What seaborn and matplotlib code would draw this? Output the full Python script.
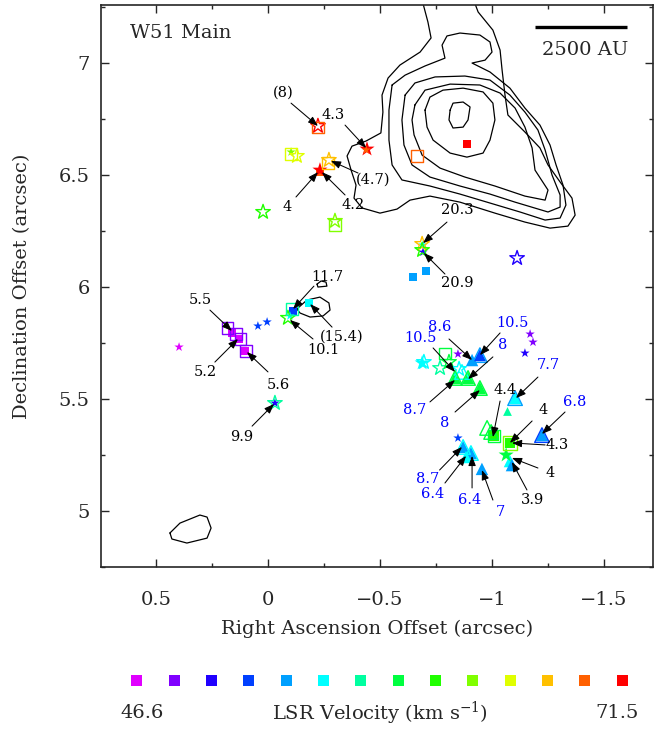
import numpy as np
import pandas as pd
import matplotlib
matplotlib.use("Agg")
import matplotlib.pyplot as plt
from matplotlib.ticker import MultipleLocator, FuncFormatter
import seaborn as sns

# velocity bins (46.6 -> 71.5 km/s), one colour per bin
vel_colors = ["#e000ff", "#8000ff", "#2000ff", "#0040ff", "#00a0ff", "#00ffff", "#00ffa0",
              "#00ff40", "#20ff00", "#80ff00", "#e0ff00", "#ffc000", "#ff6000", "#ff0000"]
vel_min_label = "46.6"
vel_max_label = "71.5"

# maser spots: offsets (arcsec), kind, velocity bin
pt_x = [-0.888, -0.665, -0.223, -0.223, -0.442, -0.438, -0.103, -0.103, -0.129, -0.272,
        -0.268, -0.232, -0.232, 0.022, -0.299, -0.299, -0.688, -0.692, -0.688, -0.692,
        -1.112, -0.647, -0.705, 0.397, 0.179, 0.143, 0.121, 0.098, 0.161, 0.129,
        0.103, 0.045, 0.004, -0.107, -0.112, -0.089, -0.098, -0.183, -0.031, -0.031,
        -0.688, -0.696, -0.790, -0.768, -0.808, -0.848, -0.853, -0.866, -0.835, -0.835,
        -0.893, -0.893, -0.946, -0.946, -0.911, -0.946, -0.946, -1.170, -1.183, -1.147,
        -1.103, -1.103, -1.067, -1.223, -1.223, -0.978, -0.996, -1.009, -1.009, -1.080,
        -1.080, -1.063, -1.080, -1.089, -0.848, -0.871, -0.871, -0.906, -0.906, -0.884,
        -0.955]
pt_y = [6.638, 6.585, 6.714, 6.719, 6.616, 6.612, 6.603, 6.594, 6.585, 6.567,
        6.554, 6.522, 6.513, 6.335, 6.277, 6.295, 6.192, 6.188, 6.165, 6.156,
        6.129, 6.045, 6.071, 5.732, 5.817, 5.790, 5.768, 5.714, 5.795, 5.768,
        5.714, 5.826, 5.844, 5.902, 5.893, 5.862, 5.871, 5.929, 5.482, 5.482,
        5.661, 5.665, 5.705, 5.638, 5.665, 5.701, 5.634, 5.621, 5.594, 5.594,
        5.594, 5.594, 5.549, 5.549, 5.674, 5.696, 5.696, 5.790, 5.754, 5.705,
        5.504, 5.504, 5.446, 5.339, 5.339, 5.371, 5.353, 5.335, 5.335, 5.304,
        5.304, 5.250, 5.223, 5.205, 5.326, 5.286, 5.286, 5.259, 5.259, 5.241,
        5.188]
pt_kind = ["sq_f", "sq_o", "sq_o", "star_o", "star_F", "star_f", "star_f", "sq_o", "star_o", "star_o",
           "sq_o", "star_F", "sq_f", "star_o", "sq_o", "star_o", "star_o", "star_f", "star_o", "star_f",
           "star_o", "sq_f", "sq_f", "star_f", "sq_o", "sq_o", "sq_o", "sq_o", "sq_f", "sq_f",
           "sq_f", "star_f", "star_f", "sq_o", "sq_f", "star_o", "star_f", "sq_f", "star_o", "star_f",
           "star_F", "star_o", "sq_o", "star_o", "star_o", "star_f", "star_o", "tri_o", "tri_f", "tri_o",
           "tri_f", "tri_o", "tri_f", "tri_o", "tri_f", "tri_f", "tri_o", "star_f", "star_f", "star_f",
           "tri_f", "tri_o", "tri_s", "tri_f", "tri_o", "tri_o", "tri_o", "sq_F", "sq_o", "sq_F",
           "sq_O", "star_F", "tri_f", "tri_f", "star_f", "tri_f", "tri_o", "tri_o", "tri_f", "tri_f",
           "tri_f"]
pt_vel = [13, 12, 12, 13, 13, 12, 9, 10, 10, 11,
          11, 13, 12, 8, 9, 9, 11, 5, 8, 2,
          2, 4, 4, 0, 1, 1, 1, 1, 0, 0,
          0, 3, 3, 6, 3, 8, 5, 5, 6, 2,
          5, 5, 7, 6, 7, 1, 5, 5, 7, 7,
          7, 7, 7, 7, 4, 3, 4, 1, 1, 2,
          5, 4, 6, 4, 3, 7, 7, 8, 7, 8,
          9, 7, 5, 4, 3, 4, 5, 5, 4, 5,
          4]

# velocity annotations: text, text position, arrow tail, arrow head
lab_text = ["(8)", "4.3", "(4.7)", "4", "4.2", "20.3", "20.9", "5.5", "5.2", "5.6",
            "9.9", "11.7", "10.1", "(15.4)", "8.6", "10.5", "10.5", "8", "8.7", "8",
            "7.7", "4.4", "6.8", "4", "4.3", "4", "3.9", "8.7", "6.4", "6.4", "7"]
lab_blue = [0, 0, 0, 0, 0, 0, 0, 0, 0, 0,
            0, 0, 0, 0, 1, 1, 1, 1, 1, 1,
            1, 0, 1, 0, 0, 0, 0, 1, 1, 1, 1]
lab_x = [-0.067, -0.290, -0.469, -0.085, -0.379, -0.844, -0.844, 0.304, 0.281, -0.045,
         0.116, -0.263, -0.246, -0.330, -0.768, -0.679, -1.089, -1.049, -0.656, -0.790,
         -1.250, -1.058, -1.371, -1.228, -1.290, -1.259, -1.179, -0.714, -0.737, -0.902, -1.036]
lab_y = [6.866, 6.768, 6.478, 6.357, 6.366, 6.344, 6.018, 5.942, 5.621, 5.563,
         5.330, 6.045, 5.719, 5.777, 5.821, 5.772, 5.839, 5.741, 5.451, 5.393,
         5.652, 5.540, 5.487, 5.451, 5.295, 5.170, 5.049, 5.145, 5.074, 5.049, 4.996]
tail_x = [-0.103, -0.344, -0.402, -0.125, -0.344, -0.799, -0.790, 0.259, 0.237, 0.000,
          0.071, -0.205, -0.201, -0.286, -0.808, -0.737, -1.036, -1.004, -0.723, -0.835,
          -1.205, -1.036, -1.326, -1.179, -1.237, -1.205, -1.156, -0.766, -0.790, -0.911, -1.004]
tail_y = [6.821, 6.723, 6.509, 6.402, 6.411, 6.290, 6.058, 5.897, 5.665, 5.621,
          5.379, 6.004, 5.768, 5.821, 5.768, 5.728, 5.795, 5.688, 5.487, 5.442,
          5.598, 5.491, 5.442, 5.402, 5.295, 5.192, 5.094, 5.183, 5.125, 5.103, 5.049]
head_x = [-0.223, -0.438, -0.281, -0.223, -0.241, -0.692, -0.696, 0.161, 0.134, 0.094,
          -0.027, -0.112, -0.098, -0.188, -0.911, -0.835, -0.946, -0.893, -0.835, -0.946,
          -1.107, -1.004, -1.223, -1.080, -1.089, -1.089, -1.089, -0.866, -0.884, -0.911, -0.955]
head_y = [6.719, 6.621, 6.563, 6.513, 6.513, 6.196, 6.152, 5.804, 5.768, 5.710,
          5.478, 5.902, 5.853, 5.924, 5.674, 5.621, 5.696, 5.589, 5.585, 5.540,
          5.504, 5.330, 5.344, 5.304, 5.304, 5.237, 5.219, 5.286, 5.246, 5.246, 5.183]

# continuum contours (arcsec offsets)
cont1_x = [-0.683, -0.714, -0.728, -0.679, -0.589, -0.536, -0.509, -0.513, -0.504, -0.438,
           -0.375, -0.353, -0.371, -0.393, -0.384, -0.420, -0.500, -0.576, -0.634, -0.723,
           -0.857, -1.013, -1.147, -1.259, -1.339, -1.371, -1.357, -1.304, -1.250, -1.214,
           -1.147, -1.071, -1.058, -1.045, -1.036, -1.004, -0.938, -0.911]
cont1_y = [7.30, 7.183, 7.112, 7.049, 6.991, 6.933, 6.857, 6.781, 6.688, 6.652,
           6.629, 6.585, 6.522, 6.455, 6.397, 6.353, 6.330, 6.348, 6.388, 6.406,
           6.379, 6.330, 6.290, 6.263, 6.272, 6.321, 6.397, 6.469, 6.545, 6.621,
           6.692, 6.768, 6.857, 6.969, 7.058, 7.147, 7.228, 7.30]
cont2_x = [-0.554, -0.612, -0.701, -0.790, -0.777, -0.799, -0.857, -0.946, -0.991, -1.000,
           -0.969, -0.911, -0.991, -1.080, -1.147, -1.214, -1.259, -1.286, -1.317, -1.330,
           -1.304, -1.237, -1.125, -0.991, -0.857, -0.723, -0.598, -0.554, -0.540, -0.540, -0.554]
cont2_y = [6.902, 6.946, 6.987, 7.022, 7.080, 7.121, 7.134, 7.125, 7.094, 7.049,
           7.013, 7.000, 6.960, 6.888, 6.799, 6.723, 6.634, 6.545, 6.455, 6.366,
           6.308, 6.299, 6.335, 6.375, 6.415, 6.451, 6.478, 6.545, 6.656, 6.790, 6.902]
cont3_x = [-0.612, -0.656, -0.746, -0.879, -0.991, -1.080, -1.147, -1.205, -1.237, -1.268,
           -1.304, -1.304, -1.250, -1.103, -0.991, -0.857, -0.723, -0.643, -0.607, -0.598, -0.612]
cont3_y = [6.857, 6.911, 6.938, 6.942, 6.924, 6.857, 6.781, 6.701, 6.612, 6.500,
           6.411, 6.357, 6.335, 6.379, 6.415, 6.451, 6.491, 6.545, 6.634, 6.746, 6.857]
cont4_x = [-0.656, -0.701, -0.813, -0.946, -1.036, -1.103, -1.147, -1.179, -1.192, -1.250,
           -1.237, -1.147, -1.013, -0.879, -0.768, -0.688, -0.652, -0.643, -0.656]
cont4_y = [6.813, 6.879, 6.906, 6.902, 6.866, 6.799, 6.714, 6.621, 6.522, 6.433,
           6.388, 6.406, 6.451, 6.491, 6.531, 6.589, 6.679, 6.746, 6.813]
cont5_x = [-0.701, -0.723, -0.781, -0.871, -0.960, -1.004, -1.013, -0.991, -0.960, -0.888,
           -0.813, -0.737, -0.710, -0.701]
cont5_y = [6.790, 6.848, 6.879, 6.888, 6.871, 6.821, 6.746, 6.656, 6.598, 6.580,
           6.598, 6.656, 6.714, 6.790]
cont6_x = [-0.813, -0.826, -0.871, -0.902, -0.893, -0.871, -0.826, -0.808, -0.813]
cont6_y = [6.790, 6.821, 6.826, 6.804, 6.746, 6.714, 6.710, 6.746, 6.790]
cont7_x = [0.4375, 0.393, 0.304, 0.272, 0.254, 0.272, 0.362, 0.429, 0.4375]
cont7_y = [4.902, 4.946, 4.982, 4.973, 4.924, 4.879, 4.857, 4.875, 4.902]
cont8_x = [-0.129, -0.174, -0.232, -0.272, -0.277, -0.246, -0.188, -0.143, -0.129]
cont8_y = [5.902, 5.942, 5.955, 5.929, 5.897, 5.871, 5.866, 5.884, 5.902]
cont9_x = [-0.219, -0.237, -0.259, -0.263, -0.223, -0.219]
cont9_y = [6.013, 6.027, 6.022, 6.004, 6.000, 6.013]

# marker style per kind: marker, filled, size
kind_style = {
    "sq_F": ("s", True, 55), "sq_f": ("s", True, 32), "tri_f": ("^", True, 80),
    "tri_s": ("^", True, 40), "star_F": ("*", True, 130), "star_f": ("*", True, 50),
    "star_o": ("*", False, 120), "sq_o": ("s", False, 65), "sq_O": ("s", False, 110),
    "tri_o": ("^", False, 110),
}
draw_order = ["sq_F", "sq_f", "tri_f", "tri_s", "star_F", "star_f", "star_o", "sq_o", "sq_O", "tri_o"]

sns.set_style("ticks")
plt.rcParams["font.family"] = ["DejaVu Serif"]
plt.rcParams["mathtext.fontset"] = "dejavuserif"

pal = {i: c for i, c in enumerate(vel_colors)}
pts = pd.DataFrame({"x": pt_x, "y": pt_y, "kind": pt_kind, "vel": pt_vel})

fig = plt.figure(figsize=(6.54, 7.52), dpi=100)
ax = fig.add_axes([0.1544, 0.246, 0.8441, 0.7473])

for cx, cy in [(cont1_x, cont1_y), (cont2_x, cont2_y), (cont3_x, cont3_y), (cont4_x, cont4_y),
               (cont5_x, cont5_y), (cont6_x, cont6_y), (cont7_x, cont7_y), (cont8_x, cont8_y),
               (cont9_x, cont9_y)]:
    ax.plot(cx, cy, color="black", lw=0.9, zorder=1, solid_joinstyle="round")

for k in draw_order:
    sub = pts[pts["kind"] == k]
    if sub.empty:
        continue
    m, filled, size = kind_style[k]
    sns.scatterplot(data=sub, x="x", y="y", hue="vel", palette=pal, marker=m, s=size,
                    linewidth=0 if filled else 1.0, legend=False, ax=ax, zorder=3)
    if not filled:
        coll = ax.collections[-1]
        coll.set_edgecolors(coll.get_facecolors())
        coll.set_facecolors("none")

for i, t in enumerate(lab_text):
    ax.annotate("", xy=(head_x[i], head_y[i]), xytext=(tail_x[i], tail_y[i]),
                arrowprops=dict(arrowstyle="-|>,head_length=0.42,head_width=0.16", color="black",
                                lw=0.75, shrinkA=0, shrinkB=0, mutation_scale=14), zorder=4)
    ax.text(lab_x[i], lab_y[i], t, ha="center", va="center", fontsize=10.5,
            color="#0000ff" if lab_blue[i] else "black", zorder=5)

# scale bar
ax.plot([-1.192, -1.603], [7.161, 7.161], color="black", lw=2.4, solid_capstyle="butt")
ax.text(-1.415, 7.058, "2500 AU", ha="center", va="center", fontsize=14)
ax.text(0.0525, 0.95, "W51 Main", transform=ax.transAxes, ha="left", va="center", fontsize=14)

ax.set_xlim(0.7455, -1.71875)
ax.set_ylim(4.75, 7.259)
ax.xaxis.set_major_locator(MultipleLocator(0.5))
ax.xaxis.set_minor_locator(MultipleLocator(0.25))
ax.yaxis.set_major_locator(MultipleLocator(0.5))
ax.yaxis.set_minor_locator(MultipleLocator(0.25))
fmt = FuncFormatter(lambda v, p: ("%g" % v).replace("-", "\u2212"))
ax.xaxis.set_major_formatter(fmt)
ax.yaxis.set_major_formatter(fmt)
ax.tick_params(which="both", direction="in", top=True, right=True, labelsize=14, width=1)
ax.tick_params(which="major", length=6)
ax.tick_params(which="minor", length=3)
ax.tick_params(axis="x", pad=17)
ax.tick_params(axis="y", pad=8)
for s in ax.spines.values():
    s.set_linewidth(1.2)

ax.set_xlabel("Right Ascension Offset (arcsec)", fontsize=14, va="center")
ax.xaxis.set_label_coords(0.5, (567 - 629) / 562)
ax.set_ylabel("Declination Offset (arcsec)", fontsize=14, va="center")
ax.yaxis.set_label_coords((22 - 101) / 552, 0.5)

# colour key
cax = fig.add_axes([0.1804, 0.0824, 0.7997, 0.0266])
key = pd.DataFrame({"pos": np.arange(len(vel_colors)), "y": np.zeros(len(vel_colors)),
                    "vel": np.arange(len(vel_colors))})
sns.scatterplot(data=key, x="pos", y="y", hue="vel", palette=pal, marker="s", s=63,
                linewidth=0, legend=False, ax=cax)
cax.set_xlim(-0.5, len(vel_colors) - 0.5)
cax.set_ylim(-1, 1)
cax.axis("off")
fig.text(142 / 654, 1 - 713 / 752, vel_min_label, ha="center", va="center", fontsize=14)
fig.text(380 / 654, 1 - 713 / 752, "LSR Velocity (km s$^{-1}$)", ha="center", va="center", fontsize=14)
fig.text(617 / 654, 1 - 713 / 752, vel_max_label, ha="center", va="center", fontsize=14)

fig.savefig("out.png", dpi=100)
